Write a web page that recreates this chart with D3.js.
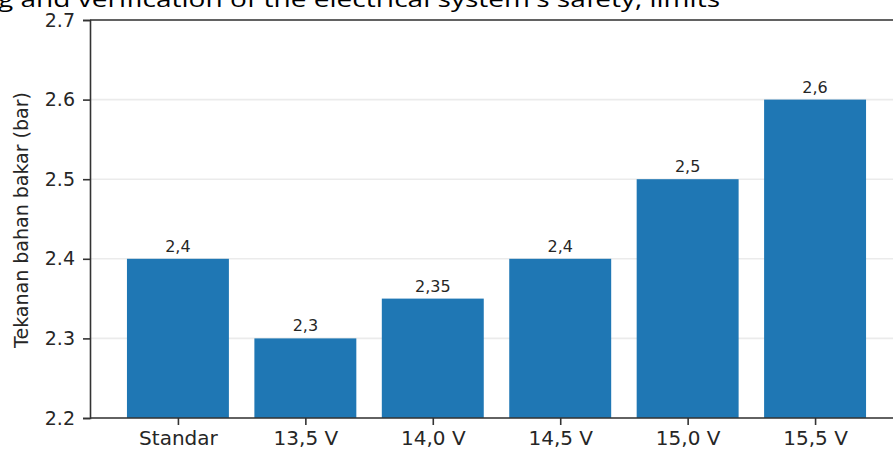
<!DOCTYPE html>
<html><head><meta charset="utf-8">
<script src="https://cdn.jsdelivr.net/npm/d3@7"></script>
<style>html,body{margin:0;padding:0;background:#fff;overflow:hidden}</style>
</head><body>
<script>
const categories = ["Standar", "13,5 V", "14,0 V", "14,5 V", "15,0 V", "15,5 V"];
const values = [2.4, 2.3, 2.35, 2.4, 2.5, 2.6];
const valueLabels = ["2,4", "2,3", "2,35", "2,4", "2,5", "2,6"];
const yTicks = [2.2, 2.3, 2.4, 2.5, 2.6, 2.7];
const yLabel = "Tekanan bahan bakar (bar)";
const topText = "g and verification of the electrical system's safety, limits";

(function () {
const W = 893, H = 451;
const svg = d3.select("body").append("svg").attr("width", W).attr("height", H);

const mLeft = 90, mTop = 20, mBottom = 418, mRight = 903;
const xLin = d3.scaleLinear().domain([-0.69, 5.69]).range([mLeft, mRight]);
const y = d3.scaleLinear().domain([2.2, 2.7]).range([mBottom, mTop]);
const bw = xLin(0.4) - xLin(-0.4);

svg.append("text").attr("x", -2).attr("y", 7)
  .attr("font-family", "Open Sans").attr("font-size", 21).attr("fill", "#000")
  .attr("textLength", 722).attr("lengthAdjust", "spacingAndGlyphs")
  .text(topText);

svg.append("g").selectAll("line").data(yTicks).join("line")
  .attr("x1", mLeft).attr("x2", mRight)
  .attr("y1", d => y(d)).attr("y2", d => y(d))
  .attr("stroke", "#ebebeb").attr("stroke-width", 1.6);

svg.append("g").selectAll("rect").data(values).join("rect")
  .attr("x", (d, i) => xLin(i) - bw / 2)
  .attr("width", bw)
  .attr("y", d => y(d))
  .attr("height", d => y(2.2) - y(d))
  .attr("fill", "#1f77b4");

svg.append("g").selectAll("text").data(values).join("text")
  .attr("x", (d, i) => xLin(i))
  .attr("y", d => y(d) - 7)
  .attr("text-anchor", "middle")
  .attr("font-family", "DejaVu Sans").attr("font-size", 16).attr("fill", "#262626")
  .text((d, i) => valueLabels[i]);

const yAxis = d3.axisLeft(y).tickValues(yTicks).tickFormat(d3.format(".1f")).tickSize(7).tickPadding(8);
const gy = svg.append("g").attr("transform", `translate(${mLeft},0)`).call(yAxis);
gy.select(".domain").attr("stroke", "#333").attr("stroke-width", 1.6);
gy.selectAll(".tick line").attr("stroke", "#333").attr("stroke-width", 1.6);
gy.selectAll(".tick text").attr("font-family", "DejaVu Sans").attr("font-size", 19).attr("fill", "#262626");

const xBand = d3.scalePoint().domain(categories).range([xLin(0), xLin(5)]);
const xAxis = d3.axisBottom(xBand).tickSize(7).tickPadding(6).tickSizeOuter(0);
const gx = svg.append("g").attr("transform", `translate(0,${mBottom})`).call(xAxis);
gx.select(".domain").attr("d", `M${mLeft},0H${mRight}`).attr("stroke", "#333").attr("stroke-width", 1.6);
gx.selectAll(".tick line").attr("stroke", "#333").attr("stroke-width", 1.6);
gx.selectAll(".tick text").attr("font-family", "DejaVu Sans").attr("font-size", 20).attr("fill", "#262626");

svg.append("line").attr("x1", mLeft).attr("x2", mRight).attr("y1", mTop).attr("y2", mTop)
  .attr("stroke", "#333").attr("stroke-width", 1.6);

svg.append("text").attr("transform", `translate(28,220) rotate(-90)`)
  .attr("text-anchor", "middle")
  .attr("font-family", "DejaVu Sans").attr("font-size", 19).attr("fill", "#262626")
  .text(yLabel);
})();
</script>
</body></html>
